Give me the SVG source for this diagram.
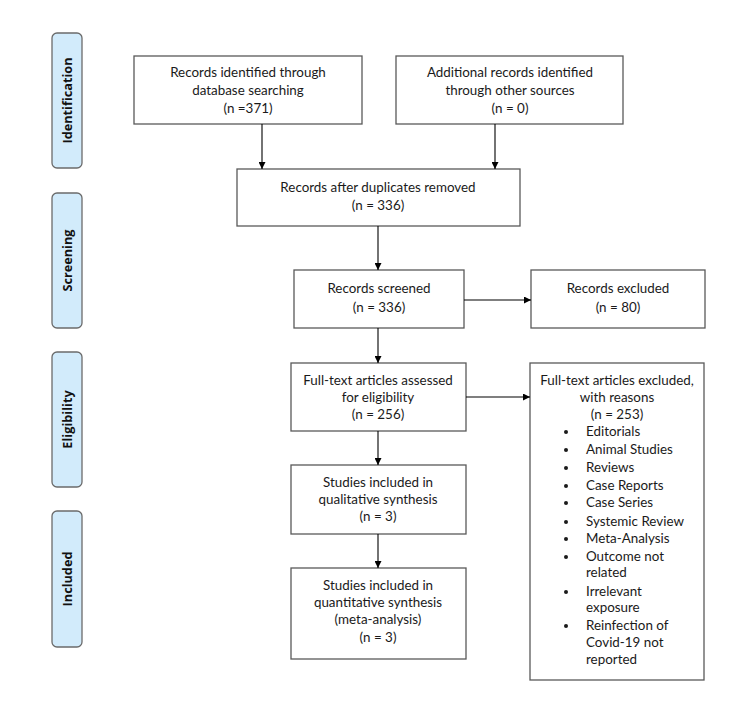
<svg xmlns="http://www.w3.org/2000/svg" width="750" height="722" viewBox="0 0 750 722">
<defs>
<marker id="ah" viewBox="0 0 10 10" refX="10" refY="5" markerWidth="8" markerHeight="7" markerUnits="userSpaceOnUse" orient="auto"><path d="M0,0 L10,5 L0,10 z" fill="#000"/></marker>
</defs>
<style>
.box{fill:#fff;stroke:#595959;stroke-width:1.3}
.lab{fill:#d2ebfb;stroke:#6b6b6b;stroke-width:1.3}
.t{font-family:Lato,"Liberation Sans",sans-serif;font-size:13.4px;fill:#1a1a1a;text-anchor:middle}
.l{font-family:Lato,"Liberation Sans",sans-serif;font-size:13.4px;fill:#1a1a1a}
.s{font-family:"Open Sans","Liberation Sans",sans-serif;font-size:12.7px;font-weight:bold;fill:#111;text-anchor:middle}
.c{stroke:#000;stroke-width:1.1;fill:none;marker-end:url(#ah)}
</style>
<rect width="750" height="722" fill="#fff"/>
<g id="stage-identification"><rect class="lab" x="52" y="33" width="30" height="135" rx="5"/><text class="s" transform="translate(71.5,100.5) rotate(-90)">Identification</text></g>
<g id="stage-screening"><rect class="lab" x="52" y="193" width="30" height="135" rx="5"/><text class="s" transform="translate(71.5,260.5) rotate(-90)">Screening</text></g>
<g id="stage-eligibility"><rect class="lab" x="52" y="352" width="30" height="135" rx="5"/><text class="s" transform="translate(71.5,419.5) rotate(-90)">Eligibility</text></g>
<g id="stage-included"><rect class="lab" x="52" y="511" width="30" height="136" rx="5"/><text class="s" transform="translate(71.5,579) rotate(-90)">Included</text></g>

<g id="db"><rect class="box" x="134" y="56" width="228" height="68"/>
<text class="t" x="248" y="77">Records identified through</text><text class="t" x="248" y="95">database searching</text><text class="t" x="248" y="113">(n =371)</text></g>
<g id="other"><rect class="box" x="396" y="56" width="227" height="68"/>
<text class="t" x="510" y="77">Additional records identified</text><text class="t" x="510" y="95">through other sources</text><text class="t" x="510" y="113">(n = 0)</text></g>
<g id="dup"><rect class="box" x="237" y="169" width="283" height="57"/>
<text class="t" x="378" y="192">Records after duplicates removed</text><text class="t" x="378" y="210">(n = 336)</text></g>
<g id="screened"><rect class="box" x="294" y="270" width="170" height="58"/>
<text class="t" x="379" y="293">Records screened</text><text class="t" x="379" y="312">(n = 336)</text></g>
<g id="excluded"><rect class="box" x="531" y="270" width="174" height="58"/>
<text class="t" x="618" y="293">Records excluded</text><text class="t" x="618" y="312">(n = 80)</text></g>
<g id="assessed"><rect class="box" x="291" y="363" width="175" height="68"/>
<text class="t" x="378" y="385">Full-text articles assessed</text><text class="t" x="378" y="402">for eligibility</text><text class="t" x="378" y="419">(n = 256)</text></g>
<g id="ftexcluded"><rect class="box" x="530" y="363" width="174" height="317"/>
<text class="t" x="617" y="385">Full-text articles excluded,</text><text class="t" x="617" y="402">with reasons</text><text class="t" x="617" y="419">(n = 253)</text>
<g class="l">
<circle cx="566" cy="432" r="2"/><text x="586" y="436">Editorials</text>
<circle cx="566" cy="450" r="2"/><text x="586" y="454">Animal Studies</text>
<circle cx="566" cy="468" r="2"/><text x="586" y="472">Reviews</text>
<circle cx="566" cy="486" r="2"/><text x="586" y="490">Case Reports</text>
<circle cx="566" cy="503" r="2"/><text x="586" y="507">Case Series</text>
<circle cx="566" cy="522" r="2"/><text x="586" y="526">Systemic Review</text>
<circle cx="566" cy="539" r="2"/><text x="586" y="543">Meta-Analysis</text>
<circle cx="566" cy="557" r="2"/><text x="586" y="561">Outcome not</text>
<text x="586" y="577">related</text>
<circle cx="566" cy="592" r="2"/><text x="586" y="596">Irrelevant</text>
<text x="586" y="612">exposure</text>
<circle cx="566" cy="626" r="2"/><text x="586" y="630">Reinfection of</text>
<text x="586" y="647">Covid-19 not</text>
<text x="586" y="664">reported</text>
</g></g>
<g id="qual"><rect class="box" x="291" y="465" width="175" height="69"/>
<text class="t" x="378" y="487">Studies included in</text><text class="t" x="378" y="504">qualitative synthesis</text><text class="t" x="378" y="521">(n = 3)</text></g>
<g id="quant"><rect class="box" x="291" y="568" width="175" height="91"/>
<text class="t" x="378" y="590">Studies included in</text><text class="t" x="378" y="607">quantitative synthesis</text><text class="t" x="378" y="624">(meta-analysis)</text><text class="t" x="378" y="642">(n = 3)</text></g>

<g id="connectors">
<path class="c" d="M262,124 V169"/>
<path class="c" d="M495,124 V169"/>
<path class="c" d="M378,226 V270"/>
<path class="c" d="M464,300 H531"/>
<path class="c" d="M378,328 V363"/>
<path class="c" d="M466,397 H530"/>
<path class="c" d="M378,431 V465"/>
<path class="c" d="M378,534 V568"/>
</g>
</svg>
